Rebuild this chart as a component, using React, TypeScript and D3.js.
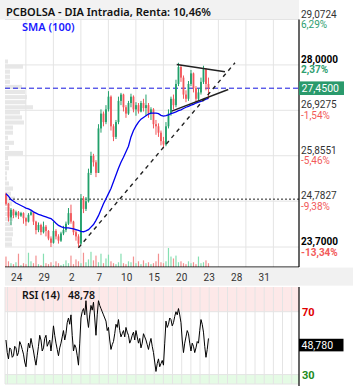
import React from "react";
import * as d3 from "d3";

// ---- data ----
const startDay = -0.39;
const barsPerDay = 11;

const opens = [
  24.95, 24.72, 24.40, 24.58, 24.45, 24.52, 24.44, 24.50, 24.38, 24.30,
  24.46, 24.52, 24.30, 24.10, 24.22, 24.05, 24.18, 24.08, 23.90, 23.80,
  24.08, 23.95, 23.85, 24.02, 24.10, 24.25, 24.50, 24.30, 24.05, 23.95,
  23.78, 24.85, 24.60, 24.78, 25.45, 25.85, 25.70, 25.45, 26.50, 26.85,
  26.65, 26.95, 27.25, 26.55, 26.30, 26.65, 27.15, 27.30, 27.00, 26.85,
  27.10, 27.25, 26.95, 27.05, 26.90, 27.10, 26.98, 27.05, 26.85, 26.95,
  26.60, 26.55, 26.40, 26.20, 26.12, 26.55, 26.85, 27.20, 27.05, 27.55,
  27.95, 27.70, 27.30, 27.20, 27.55, 27.80, 27.45, 27.20, 27.35, 27.60,
  27.90, 27.55,
];
const closes = [
  24.72, 24.40, 24.58, 24.45, 24.52, 24.44, 24.50, 24.38, 24.30, 24.46,
  24.52, 24.30, 24.10, 24.22, 24.05, 24.18, 24.08, 23.90, 23.80, 24.08,
  23.95, 23.85, 24.02, 24.10, 24.25, 24.50, 24.30, 24.05, 23.95, 23.78,
  24.85, 24.60, 24.78, 25.45, 25.85, 25.70, 25.45, 26.50, 26.85, 26.65,
  26.95, 27.25, 26.55, 26.30, 26.65, 27.15, 27.30, 27.00, 26.85, 27.10,
  27.25, 26.95, 27.05, 26.90, 27.10, 26.98, 27.05, 26.85, 26.95, 26.60,
  26.55, 26.40, 26.20, 26.12, 26.55, 26.85, 27.20, 27.05, 27.55, 27.95,
  27.70, 27.30, 27.20, 27.55, 27.80, 27.45, 27.20, 27.35, 27.60, 27.90,
  27.55, 27.45,
];
const highs = [
  24.98, 24.74, 24.62, 24.60, 24.56, 24.55, 24.53, 24.52, 24.40, 24.50,
  24.56, 24.50, 24.32, 24.28, 24.25, 24.30, 24.22, 24.10, 23.95, 24.30,
  24.12, 24.00, 24.06, 24.20, 24.30, 24.62, 24.70, 24.32, 24.10, 24.00,
  24.95, 24.90, 24.88, 25.55, 25.95, 25.90, 25.75, 26.60, 26.95, 26.90,
  27.05, 27.38, 27.28, 26.60, 26.70, 27.25, 27.34, 27.32, 27.05, 27.15,
  27.32, 27.28, 27.12, 27.10, 27.15, 27.20, 27.30, 27.10, 27.00, 26.98,
  26.70, 26.62, 26.45, 26.30, 26.65, 26.95, 27.25, 27.30, 27.65, 28.05,
  28.00, 27.75, 27.40, 27.62, 27.88, 27.82, 27.50, 27.45, 27.70, 27.98,
  27.92, 27.70,
];
const lows = [
  24.68, 24.30, 24.22, 24.38, 24.40, 24.36, 24.41, 24.25, 24.20, 24.28,
  24.44, 24.22, 24.00, 24.05, 23.98, 24.02, 23.95, 23.86, 23.70, 23.78,
  23.88, 23.78, 23.82, 23.98, 24.05, 24.22, 24.25, 23.98, 23.85, 23.70,
  23.75, 24.50, 24.55, 24.75, 25.40, 25.60, 25.35, 25.45, 26.40, 26.55,
  26.60, 26.90, 26.45, 26.20, 26.25, 26.60, 27.05, 26.90, 26.75, 26.82,
  27.00, 26.88, 26.80, 26.85, 26.88, 26.90, 26.80, 26.75, 26.70, 26.50,
  26.35, 26.30, 26.10, 26.03, 26.08, 26.50, 26.80, 26.95, 27.00, 27.50,
  27.60, 27.20, 27.12, 27.15, 27.50, 27.35, 27.10, 27.15, 27.30, 27.55,
  27.40, 27.20,
];
const volumes = [
  55, 30, 20, 15, 25, 70, 10, 20, 15, 75,
  30, 20, 60, 15, 10, 70, 20, 15, 25, 10,
  30, 20, 10, 15, 35, 20, 60, 15, 40, 30,
  20, 75, 25, 40, 80, 35, 60, 25, 70, 20,
  45, 65, 30, 20, 15, 25, 70, 20, 15, 30,
  25, 55, 20, 30, 15, 35, 20, 25, 15, 20,
  30, 70, 25, 20, 30, 100, 55, 45, 60, 25,
  30, 20, 15, 30, 20, 25, 15, 55, 20, 25,
  35, 20,
];
const sma100 = [
  24.96, 24.90, 24.82, 24.78, 24.74, 24.71, 24.68, 24.65, 24.62, 24.60,
  24.57, 24.53, 24.50, 24.47, 24.45, 24.43, 24.41, 24.39, 24.37, 24.32,
  24.26, 24.21, 24.18, 24.16, 24.15, 24.15, 24.14, 24.13, 24.11, 24.09,
  24.07, 24.06, 24.08, 24.11, 24.17, 24.23, 24.33, 24.44, 24.58, 24.72,
  24.84, 24.96, 25.08, 25.24, 25.40, 25.56, 25.70, 25.82, 25.95, 26.08,
  26.30, 26.45, 26.56, 26.65, 26.72, 26.76, 26.80, 26.84, 26.86, 26.86,
  26.86, 26.85, 26.81, 26.79, 26.80, 26.82, 26.85, 26.87, 26.89, 26.92,
  26.94, 26.97, 27.00, 27.02, 27.05, 27.07, 27.10, 27.12, 27.14, 27.16,
  27.19, 27.21,
];
// RSI sampled at half-bar steps
const rsiPerBar = 2;
const rsi14 = [
  52, 44, 40, 47, 46, 41, 42, 48, 47, 42,
  44, 51, 49, 46, 43, 38, 35, 44, 50, 47,
  53, 49, 45, 40, 36, 42, 48, 55, 52, 45,
  47, 53, 55, 48, 50, 52, 45, 52, 61, 55,
  50, 46, 42, 47, 50, 54, 58, 52, 56, 63,
  66, 62, 68, 55, 45, 49, 47, 42, 36, 50,
  66, 70, 72, 68, 77, 66, 60, 68, 74, 71,
  76, 66, 55, 68, 77, 74, 72, 70, 68, 66,
  64, 58, 60, 52, 46, 49, 51, 56, 62, 60,
  65, 58, 54, 56, 58, 54, 60, 57, 55, 50,
  52, 55, 57, 52, 58, 54, 50, 53, 47, 50,
  56, 54, 52, 49, 46, 50, 53, 48, 44, 38,
  32, 37, 40, 35, 37, 39, 36, 50, 64, 60,
  62, 66, 65, 61, 63, 67, 70, 68, 72, 68,
  63, 52, 44, 50, 54, 58, 56, 50, 45, 50,
  48, 44, 47, 51, 50, 58, 65, 62, 57, 48,
  41, 46, 53,
];
// volume profile: bins of 0.12 starting at 23.70
const profileStart = 23.7;
const profileBin = 0.12;
const profileVol = [
  7, 7, 8, 8, 7, 8, 8, 5, 7, 10,
  6, 8, 4, 2, 2, 4, 4, 3, 18, 4,
  9, 3, 8, 8, 19, 17, 15, 28, 21, 22,
  20, 17, 5, 5, 5, 18, 3,
];
// trend lines: [barIndex, price]
const supportLine = [[29, 23.68], [91.6, 28.05]];
const upperLine = [[68.3, 28.01], [87.6, 27.84]];
const lowerLine = [[66.3, 26.91], [88.9, 27.42]];
const lastPrice = 27.45;
const dottedLevel = 24.83;

const axisValues = [29.0724, 28.0, 26.9275, 25.8551, 24.7827, 23.7];
const axisLabels = ["29,0724", "28,0000", "26,9275", "25,8551", "24,7827", "23,7000"];
const axisPct = ["6,29%", "2,37%", "-1,54%", "-5,46%", "-9,38%", "-13,34%"];
const axisBold = [false, true, false, false, false, true];
const dayLabels = ["24", "29", "2", "7", "10", "15", "20", "23", "28", "31"];

const title = "PCBOLSA - DIA Intradia, Renta: 10,46%";
const rsiValueText = "48,78";
const rsiBoxValue = 48.78;

const GREEN = "#22a06b";
const RED = "#f2575b";
const VGREEN = "#86dfb2";
const VRED = "#f39090";
const GRID = "#e4e4e4";

export default function App() {
  const W = 353, H = 390;
  const L = 5, R = 299, T = 19.5, PB = 267;
  const yP = d3.scaleLinear().domain([23.7, 29.0724]).range([247, 19.5]);
  const yV = d3.scaleLinear().domain([0, 100]).range([PB, 248]);
  const xD = d3.scaleLinear().domain([0, 1]).range([16.7, 44.2]);
  const xB = (i: number) => xD(startDay + i / barsPerDay);
  const RT = 287, RB = 384;
  const yR = d3.scaleLinear().domain([30, 70]).range([374.6, 311.7]);

  const mainGridX = d3.range(0, 10).map((k) => xD(k + 1 / 3)).filter((x) => x > L && x < R);
  const rsiGridX = d3.range(-1, 31).map((j) => xD(j / 3)).filter((x) => x > L && x < R);

  const smaPath = d3.line<number>().x((_, i) => xB(i)).y((v) => yP(v))(sma100) || "";
  const rsiPath = d3.line<number>().x((_, i) => xB(i / rsiPerBar)).y((v) => yR(v))(rsi14) || "";

  const seg = (ln: number[][]) => ({
    x1: xB(ln[0][0]), y1: yP(ln[0][1]), x2: xB(ln[1][0]), y2: yP(ln[1][1]),
  });
  const sup = seg(supportLine), up = seg(upperLine), lo = seg(lowerLine);

  const axisFont = "Roboto, 'Noto Sans', sans-serif";
  const titleFont = "'Noto Sans', 'Open Sans', sans-serif";

  return (
    <svg width={W} height={H} style={{ position: "absolute", left: 0, top: 0, background: "#fff" }}
      fontFamily={axisFont}>
      <defs>
        <clipPath id="mainclip"><rect x={L} y={T} width={R - L} height={PB - T} /></clipPath>
        <clipPath id="rsiclip"><rect x={L} y={RT} width={R - L} height={RB - RT} /></clipPath>
      </defs>
      {/* header */}
      <rect x={0} y={0} width={R} height={T} fill="#f2f2f2" />
      <text x={6} y={15.5} fontFamily={titleFont} fontSize={11} fontWeight={600} fill="#111">{title}</text>

      {/* main grid */}
      {axisValues.map((v, i) => (
        <line key={"hg" + i} x1={L} x2={R} y1={yP(v)} y2={yP(v)} stroke={GRID} strokeWidth={1} />
      ))}
      {mainGridX.map((x, i) => (
        <line key={"vg" + i} x1={x} x2={x} y1={T} y2={PB} stroke={GRID} strokeWidth={1} />
      ))}

      <g clipPath="url(#mainclip)">
        {/* volume profile */}
        {profileVol.map((v, k) => {
          const y0 = yP(profileStart + profileBin * (k + 1));
          const y1 = yP(profileStart + profileBin * k);
          return <rect key={"pf" + k} x={L} y={y0 + 0.5} width={v} height={y1 - y0 - 1} fill="#e3e3e3" opacity={0.85} />;
        })}
        {/* volume */}
        {volumes.map((v, i) => (
          <rect key={"v" + i} x={xB(i) - 0.6} y={yV(v)} width={1.2} height={PB - yV(v)}
            fill={closes[i] >= opens[i] ? VGREEN : VRED} />
        ))}
        {/* horizontal levels */}
        <line x1={L} x2={R} y1={yP(dottedLevel)} y2={yP(dottedLevel)} stroke="#222" strokeWidth={1} strokeDasharray="2,2" />
        <line x1={L} x2={R} y1={yP(lastPrice)} y2={yP(lastPrice)} stroke="#1515e0" strokeWidth={1} strokeDasharray="5,3" />
        {/* candles */}
        {closes.map((c, i) => {
          const o = opens[i];
          const col = c >= o ? GREEN : RED;
          const x = xB(i);
          const yt = yP(Math.max(o, c)), yb = yP(Math.min(o, c));
          return (
            <g key={"c" + i}>
              <line x1={x} x2={x} y1={yP(highs[i])} y2={yP(lows[i])} stroke={col} strokeWidth={1} />
              <rect x={x - 0.9} y={yt} width={1.8} height={Math.max(1, yb - yt)} fill={col} />
            </g>
          );
        })}
        {/* SMA */}
        <path d={smaPath} fill="none" stroke="#0000ee" strokeWidth={1.3} />
        {/* trend lines */}
        <line {...sup} stroke="#222" strokeWidth={1.4} strokeDasharray="4,4" />
        <line {...up} stroke="#222" strokeWidth={1.4} />
        <line {...lo} stroke="#222" strokeWidth={1.4} />
      </g>
      <text x={22} y={31} fontFamily={titleFont} fontSize={11} fontWeight={600} fill="#1a1aff">SMA (100)</text>

      {/* borders */}
      <line x1={R} x2={R} y1={T} y2={PB} stroke="#000" strokeWidth={1.2} />
      <line x1={L} x2={R} y1={PB} y2={PB} stroke="#000" strokeWidth={1.2} />

      {/* right axis */}
      {axisValues.map((v, i) => (
        <g key={"ax" + i}>
          <text x={301} y={yP(v) - 2} fontSize={10} fontWeight={axisBold[i] ? 700 : 400} fill={axisBold[i] ? "#000" : "#333"}>{axisLabels[i]}</text>
          <text x={301} y={yP(v) + 8.5} fontSize={10} fontWeight={axisBold[i] ? 700 : 400}
            fill={axisPct[i].startsWith("-") ? "#f25a5a" : "#2e9e70"}>{axisPct[i]}</text>
        </g>
      ))}
      <rect x={R} y={yP(lastPrice) - 6.8} width={45} height={13.6} fill="#2a9a6c" />
      <text x={301.5} y={yP(lastPrice) + 3.8} fontSize={10.5} fill="#fff">{d3.format(".4f")(lastPrice).replace(".", ",")}</text>

      {/* x axis band */}
      <rect x={L} y={PB + 0.6} width={W - L} height={18} fill="#f1f1f1" />
      {dayLabels.map((t, i) => (
        <text key={"xl" + i} x={xD(i)} y={281} fontSize={10} textAnchor="middle" fill="#333">{t}</text>
      ))}

      {/* RSI panel */}
      <rect x={L} y={RT} width={R - L} height={yR(70) - RT} fill="#fde8e8" />
      <rect x={L} y={yR(30)} width={R - L} height={RB - yR(30)} fill="#e5fbe5" />
      {rsiGridX.map((x, i) => (
        <line key={"rg" + i} x1={x} x2={x} y1={RT} y2={RB} stroke={GRID} strokeWidth={1} />
      ))}
      <line x1={L} x2={R} y1={yR(70)} y2={yR(70)} stroke={GRID} />
      <line x1={L} x2={R} y1={yR(30)} y2={yR(30)} stroke={GRID} />
      <line x1={L} x2={R} y1={RB} y2={RB} stroke={GRID} />
      <line x1={L} x2={L} y1={RT} y2={RB} stroke={GRID} />
      <g clipPath="url(#rsiclip)">
        <path d={rsiPath} fill="none" stroke="#000" strokeWidth={1} />
      </g>
      <text x={22} y={299} fontFamily={titleFont} fontSize={10.5} fontWeight={600} fill="#111">RSI (14)</text>
      <text x={68} y={299} fontFamily={titleFont} fontSize={10.5} fontWeight={600} fill="#111">{rsiValueText}</text>
      <line x1={R} x2={R} y1={RT} y2={RB + 2} stroke="#000" strokeWidth={1.2} />
      <text x={302} y={yR(70) + 4} fontSize={11} fontWeight={700} fill="#e00000">70</text>
      <text x={302} y={yR(30) + 4} fontSize={11} fontWeight={700} fill="#228b22">30</text>
      <rect x={R} y={yR(rsiBoxValue) - 6.3} width={44.5} height={12.6} fill="#000" />
      <text x={301.5} y={yR(rsiBoxValue) + 3.8} fontSize={10.5} fill="#fff">{d3.format(".3f")(rsiBoxValue).replace(".", ",")}</text>
    </svg>
  );
}
